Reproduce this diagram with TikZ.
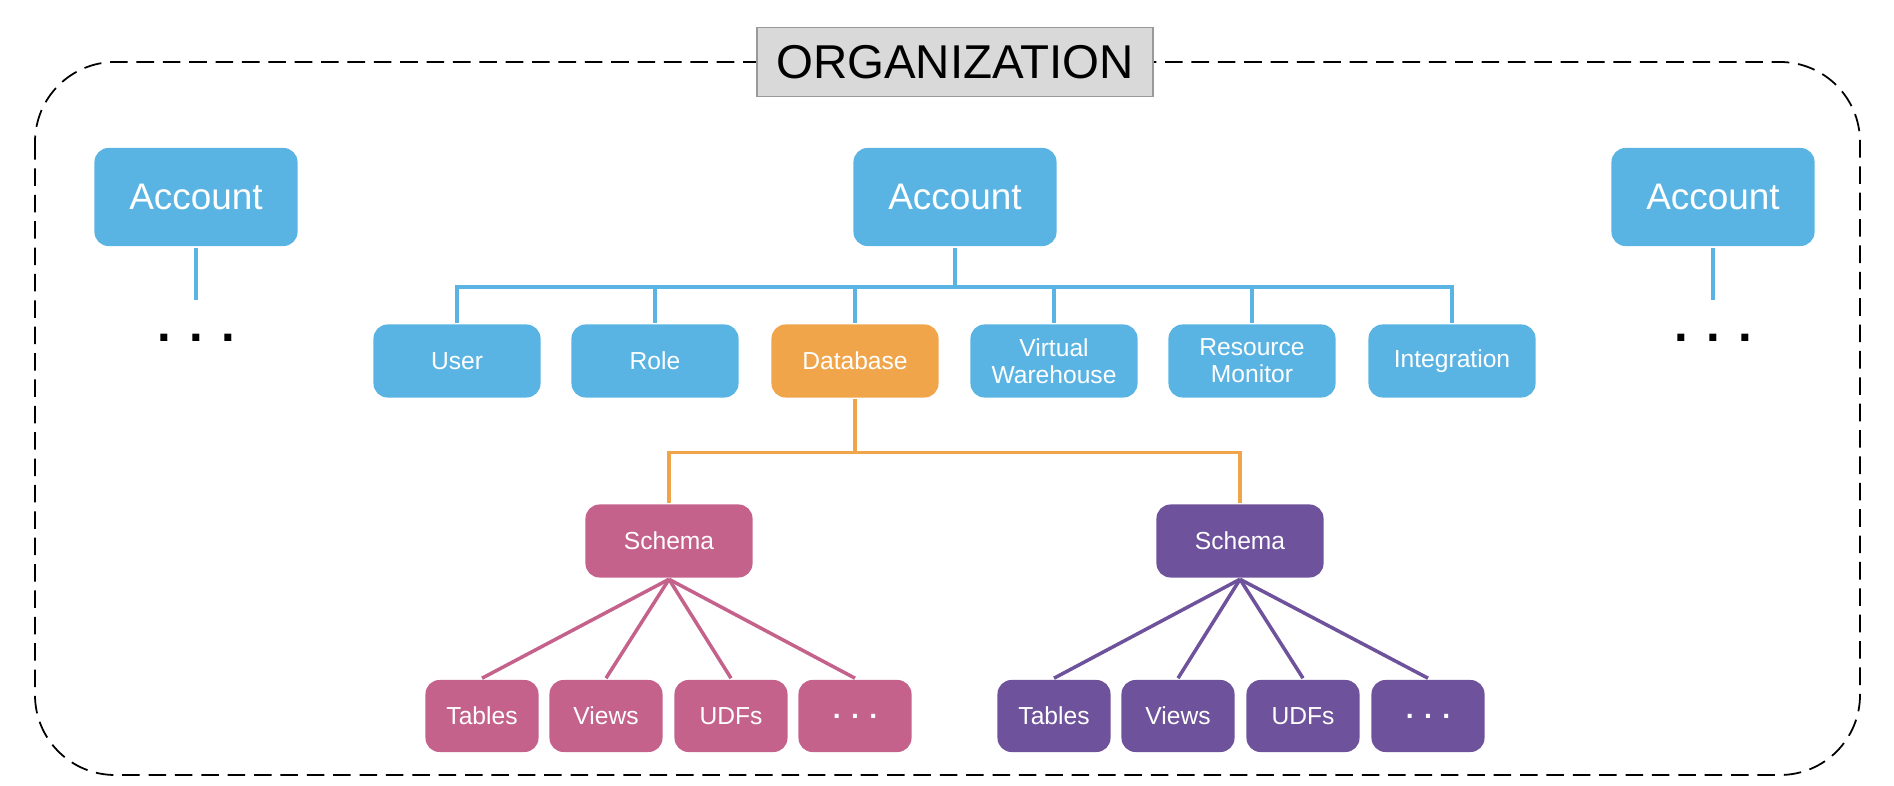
\documentclass[tikz,border=0pt]{standalone}
\usepackage{fontspec}
\setmainfont{Liberation Sans}
\usetikzlibrary{positioning}
\definecolor{acc}{HTML}{5AB4E3}
\definecolor{dbc}{HTML}{F0A54B}
\definecolor{pnk}{HTML}{C4628C}
\definecolor{prp}{HTML}{6E529B}
\begin{document}
\begin{tikzpicture}[x=0.01cm,y=-0.01cm,line width=1pt]
  \tikzset{box/.style={rectangle,rounded corners=4pt,text=white,align=center,inner sep=0pt},
    big/.style={box,fill=acc,minimum width=2.03cm,minimum height=0.98cm,font=\fontsize{10.5}{12}\selectfont},
    obj/.style={box,minimum width=1.67cm,minimum height=0.73cm,font=\fontsize{7}{7.6}\selectfont},
    leaf/.style={box,minimum width=1.13cm,minimum height=0.72cm,font=\fontsize{7}{8}\selectfont}}
  \useasboundingbox (0,0) rectangle (1894,786);
  \draw[dash pattern=on 5pt off 2.5pt,line width=0.5pt,rounded corners=0.8cm] (35,62) rectangle (1860,775);
  \node[fill=gray!30,draw=gray!80,line width=0.5pt,minimum width=3.96cm,minimum height=0.69cm,inner sep=0pt,font=\fontsize{13.5}{15}\selectfont] (org) at (955,62) {ORGANIZATION};

  \node[big] (accL) at (196,197) {Account};
  \node[big] (accM) at (955,197) {Account};
  \node[big] (accR) at (1713,197) {Account};
  \node[font=\bfseries\fontsize{14}{14}\selectfont] (dotsL) at (196,338) {. . .};
  \node[font=\bfseries\fontsize{14}{14}\selectfont] (dotsR) at (1713,338) {. . .};
  \coordinate (endL) at (196,300);
  \coordinate (endR) at (1713,300);
  \draw[acc] (accL) -- (endL);
  \draw[acc] (accR) -- (endR);

  \node[obj,fill=acc] (user) at (457,361) {User};
  \node[obj,fill=acc] (role) at (655,361) {Role};
  \node[obj,fill=dbc] (db) at (855,361) {Database};
  \node[obj,fill=acc] (wh) at (1054,361) {Virtual\\Warehouse};
  \node[obj,fill=acc] (rm) at (1252,361) {Resource\\Monitor};
  \node[obj,fill=acc] (integ) at (1452,361) {Integration};
  \foreach \n in {user,role,db,wh,rm,integ}
    \draw[acc] (accM.south) |- ++(0,39) -| (\n.north);

  \node[obj,fill=pnk] (schA) at (669,541) {Schema};
  \node[obj,fill=prp] (schB) at (1240,541) {Schema};
  \draw[dbc] (db.south) |- ++(0,53) -| (schA.north);
  \draw[dbc] (db.south) |- ++(0,53) -| (schB.north);

  \node[leaf,fill=pnk] (tabA) at (482,716) {Tables};
  \node[leaf,fill=pnk] (viewA) at (606,716) {Views};
  \node[leaf,fill=pnk] (udfA) at (731,716) {UDFs};
  \node[leaf,fill=pnk,font=\bfseries\fontsize{8}{8}\selectfont] (moreA) at (855,716) {. . .};
  \node[leaf,fill=prp] (tabB) at (1054,716) {Tables};
  \node[leaf,fill=prp] (viewB) at (1178,716) {Views};
  \node[leaf,fill=prp] (udfB) at (1303,716) {UDFs};
  \node[leaf,fill=prp,font=\bfseries\fontsize{8}{8}\selectfont] (moreB) at (1428,716) {. . .};
  \foreach \n in {tabA,viewA,udfA,moreA}
    \draw[pnk] (schA.south) -- (\n.north);
  \foreach \n in {tabB,viewB,udfB,moreB}
    \draw[prp] (schB.south) -- (\n.north);
\end{tikzpicture}
\end{document}
